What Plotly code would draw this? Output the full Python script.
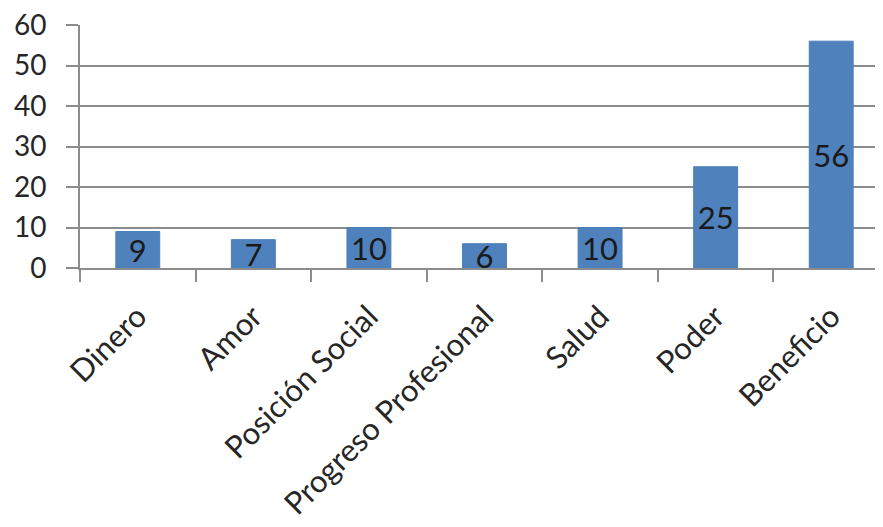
import plotly.graph_objects as go

categories = ["Dinero", "Amor", "Posición Social", "Progreso Profesional", "Salud", "Poder", "Beneficio"]
values = [9, 7, 10, 6, 10, 25, 56]
y_ticks = [0, 10, 20, 30, 40, 50, 60]

FONT = "Lato"

fig = go.Figure()
fig.add_trace(go.Bar(
    x=categories, y=values,
    marker=dict(color="#4F81BD", line=dict(color="#4A7EBB", width=1)),
    width=0.38,
    text=[str(v) for v in values],
    textposition="inside",
    insidetextanchor="middle",
    textangle=0,
    constraintext="none",
    textfont=dict(family=FONT, size=31, color="#1a1a1a"),
    cliponaxis=False,
))

fig.update_layout(
    width=883, height=527,
    margin=dict(l=72, r=2, t=17, b=267, autoexpand=False),
    paper_bgcolor="white", plot_bgcolor="white",
    showlegend=False,
)
fig.update_xaxes(
    type="category",
    range=[-0.5, 6.5],
    automargin=False,
    showline=True, linecolor="#8c8c8c", linewidth=2,
    ticks="outside", tickson="boundaries", ticklen=12, tickcolor="#8c8c8c", tickwidth=2,
    tickangle=-45,
    tickfont=dict(family=FONT, size=31, color="#262626"),
    ticklabelstandoff=16,
    ticklabeloverflow="allow",
    showgrid=False,
)
fig.update_yaxes(
    range=[0, 60],
    tickvals=y_ticks,
    automargin=False,
    showline=True, linecolor="#8c8c8c", linewidth=2,
    showgrid=True, gridcolor="#8c8c8c", gridwidth=2,
    ticks="outside", ticklen=12, tickcolor="#8c8c8c", tickwidth=2,
    tickfont=dict(family=FONT, size=28, color="#262626"),
    ticklabelstandoff=14,
    ticklabeloverflow="allow",
    zeroline=False,
)

fig.write_html("out.html")
